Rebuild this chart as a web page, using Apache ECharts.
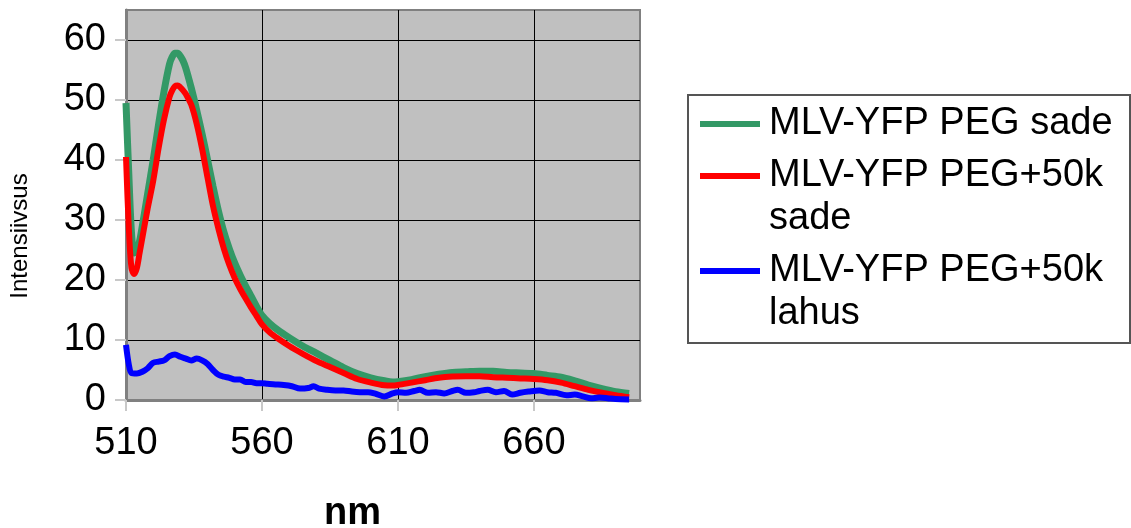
<!DOCTYPE html>
<html>
<head>
<meta charset="utf-8">
<script src="https://cdn.jsdelivr.net/npm/echarts@6/dist/echarts.min.js"></script>
<style>
  html, body { margin: 0; padding: 0; background: #fff; }
  #chart { width: 1131px; height: 528px; }
</style>
</head>
<body>
<div id="chart"></div>
<script>
// wavelengths (nm) for the two "sade" curves
var nmSade = [510, 511, 512, 513, 514, 515, 516, 518, 520, 522, 524, 526, 527, 528, 529, 530, 531, 532, 534, 536, 538, 540, 542, 544, 546, 548, 550, 552, 554, 556, 558, 560, 563, 566, 570, 575, 580, 585, 590, 595, 600, 605, 608, 610, 615, 620, 625, 630, 635, 640, 645, 650, 655, 660, 665, 670, 675, 680, 685, 690, 695];
var pegSade = [49.5, 38, 28, 24.5, 25, 26.5, 29, 34.5, 40, 46, 51.5, 56, 57.2, 57.8, 57.8, 57.3, 56.5, 55.3, 52, 48.3, 44.3, 40, 35.6, 31.5, 28, 25.2, 22.8, 20.8, 19, 17.3, 15.6, 14.1, 12.7, 11.6, 10.4, 9, 7.8, 6.6, 5.4, 4.4, 3.7, 3.2, 3, 3.05, 3.4, 3.9, 4.3, 4.6, 4.7, 4.8, 4.8, 4.6, 4.5, 4.4, 4.1, 3.8, 3.2, 2.5, 1.9, 1.4, 1.1];
var peg50kSade = [40.5, 29, 22, 21, 22, 24.5, 27, 32, 36.5, 42, 46.8, 50.5, 51.6, 52.3, 52.4, 52.1, 51.6, 51, 49.2, 46, 41.8, 37, 32.3, 28.5, 25.2, 22.5, 20.3, 18.5, 16.9, 15.4, 14, 12.6, 11.2, 10.2, 9, 7.7, 6.5, 5.5, 4.5, 3.5, 2.9, 2.45, 2.4, 2.5, 2.9, 3.3, 3.7, 3.9, 3.95, 3.95, 3.8, 3.7, 3.6, 3.5, 3.3, 2.9, 2.3, 1.7, 1.2, 0.8, 0.45];

// wavelengths (nm) and values for the "lahus" curve
var nmLahus = [510, 511, 512, 514, 516, 518, 520, 522, 524, 526, 528, 530, 532, 534, 536, 538, 540, 542, 544, 546, 548, 550, 552, 554, 556, 558, 560, 562, 565, 568, 571, 574, 577, 579, 581, 584, 587, 590, 593, 596, 599, 602, 605, 608, 610, 613, 616, 618, 621, 624, 627, 630, 632, 635, 638, 640, 643, 646, 649, 652, 655, 658, 662, 665, 668, 672, 675, 678, 681, 684, 687, 690, 695];
var peg50kLahus = [9.2, 6, 4.5, 4.4, 4.7, 5.3, 6.2, 6.4, 6.6, 7.3, 7.6, 7.2, 6.9, 6.6, 6.9, 6.6, 6, 5, 4.2, 3.9, 3.7, 3.4, 3.4, 3, 3, 2.8, 2.8, 2.7, 2.6, 2.5, 2.3, 1.9, 2, 2.3, 1.9, 1.7, 1.6, 1.6, 1.4, 1.3, 1.3, 1, 0.6, 1.1, 1.3, 1.2, 1.5, 1.7, 1.2, 1.3, 1.1, 1.5, 1.7, 1.2, 1.3, 1.5, 1.7, 1.3, 1.5, 0.9, 1.2, 1.4, 1.6, 1.3, 1.2, 0.8, 0.9, 0.6, 0.3, 0.4, 0.3, 0.15, 0.1];

var seriesNames = ['MLV-YFP PEG sade', 'MLV-YFP PEG+50k sade', 'MLV-YFP PEG+50k lahus'];
var legendLabels = ['MLV-YFP PEG sade', 'MLV-YFP PEG+50k\nsade', 'MLV-YFP PEG+50k\nlahus'];
var colors = ['#339966', '#ff0000', '#0000ff'];

function pairs(xs, ys) {
    return xs.map(function (x, i) { return [x, ys[i]]; });
}

// legend bars: one-line entry centred, two-line entries aligned with the first text line
var barMid = 'path://M0,0L60,0L60,6L0,6Z';
var barTop = 'path://M0,0L0,0M0,18.5L60,18.5L60,24.5L0,24.5ZM60,86L60,86';

var font = "'Liberation Sans', Arial, sans-serif";
var chart = echarts.init(document.getElementById('chart'), null, { renderer: 'canvas' });

var option = {
    animation: false,
    color: colors,
    textStyle: { fontFamily: font },
    grid: {
        left: 126, right: 491, top: 10, bottom: 128,
        outerBoundsMode: 'none',
        containLabel: false,
        show: true,
        backgroundColor: '#c0c0c0',
        borderColor: '#808080',
        borderWidth: 2
    },
    graphic: [{
        type: 'rect',
        z: 1,
        shape: { x: 688, y: 95, width: 442, height: 248 },
        style: { fill: '#fff', stroke: '#555', lineWidth: 2 }
    }],
    legend: {
        orient: 'vertical',
        left: 700,
        top: 102.5,
        padding: 0,
        z: 5,
        itemGap: 9,
        itemWidth: 60,
        itemHeight: 86,
        selectedMode: false,
        formatter: function (name) {
            return legendLabels[seriesNames.indexOf(name)];
        },
        textStyle: {
            fontFamily: font,
            fontSize: 38,
            lineHeight: 43,
            color: '#000',
            padding: [0, 0, 0, 4]
        },
        data: [
            { name: seriesNames[0], icon: barMid },
            { name: seriesNames[1], icon: barTop },
            { name: seriesNames[2], icon: barTop }
        ]
    },
    xAxis: {
        type: 'value',
        min: 510,
        max: 699,
        interval: 50,
        name: 'nm',
        nameLocation: 'middle',
        nameGap: 95,
        nameTextStyle: {
            fontFamily: font, fontSize: 38, fontWeight: 'bold', color: '#000',
            padding: [0, 61, 0, 0]
        },
        axisLine: { lineStyle: { color: '#808080', width: 3 } },
        axisTick: { length: 11, lineStyle: { color: '#c8c8c8', width: 2 } },
        axisLabel: {
            margin: 25, fontSize: 38, color: '#000', fontFamily: font,
            showMaxLabel: false
        },
        splitLine: { show: true, showMaxLine: false, lineStyle: { color: '#000', width: 1 } }
    },
    yAxis: {
        type: 'value',
        min: 0,
        max: 65,
        interval: 10,
        name: 'Intensiivsus',
        nameLocation: 'middle',
        nameGap: 94,
        nameTextStyle: {
            fontFamily: font, fontSize: 24, color: '#000',
            padding: [0, 62, 0, 0]
        },
        axisLine: { show: true, lineStyle: { color: '#808080', width: 3 } },
        axisTick: { show: true, length: 11, lineStyle: { color: '#c8c8c8', width: 2 } },
        axisLabel: {
            margin: 20, fontSize: 38, color: '#000', fontFamily: font,
            showMaxLabel: false
        },
        splitLine: { show: true, showMaxLine: false, lineStyle: { color: '#000', width: 1 } }
    },
    series: [
        {
            name: seriesNames[0], type: 'line', symbol: 'none', smooth: 0.3,
            lineStyle: { width: 7, color: colors[0] },
            data: pairs(nmSade, pegSade)
        },
        {
            name: seriesNames[1], type: 'line', symbol: 'none', smooth: 0.3,
            lineStyle: { width: 6, color: colors[1] },
            data: pairs(nmSade, peg50kSade)
        },
        {
            name: seriesNames[2], type: 'line', symbol: 'none', smooth: 0.3,
            lineStyle: { width: 6, color: colors[2] },
            data: pairs(nmLahus, peg50kLahus)
        }
    ]
};

chart.setOption(option);
</script>
</body>
</html>
